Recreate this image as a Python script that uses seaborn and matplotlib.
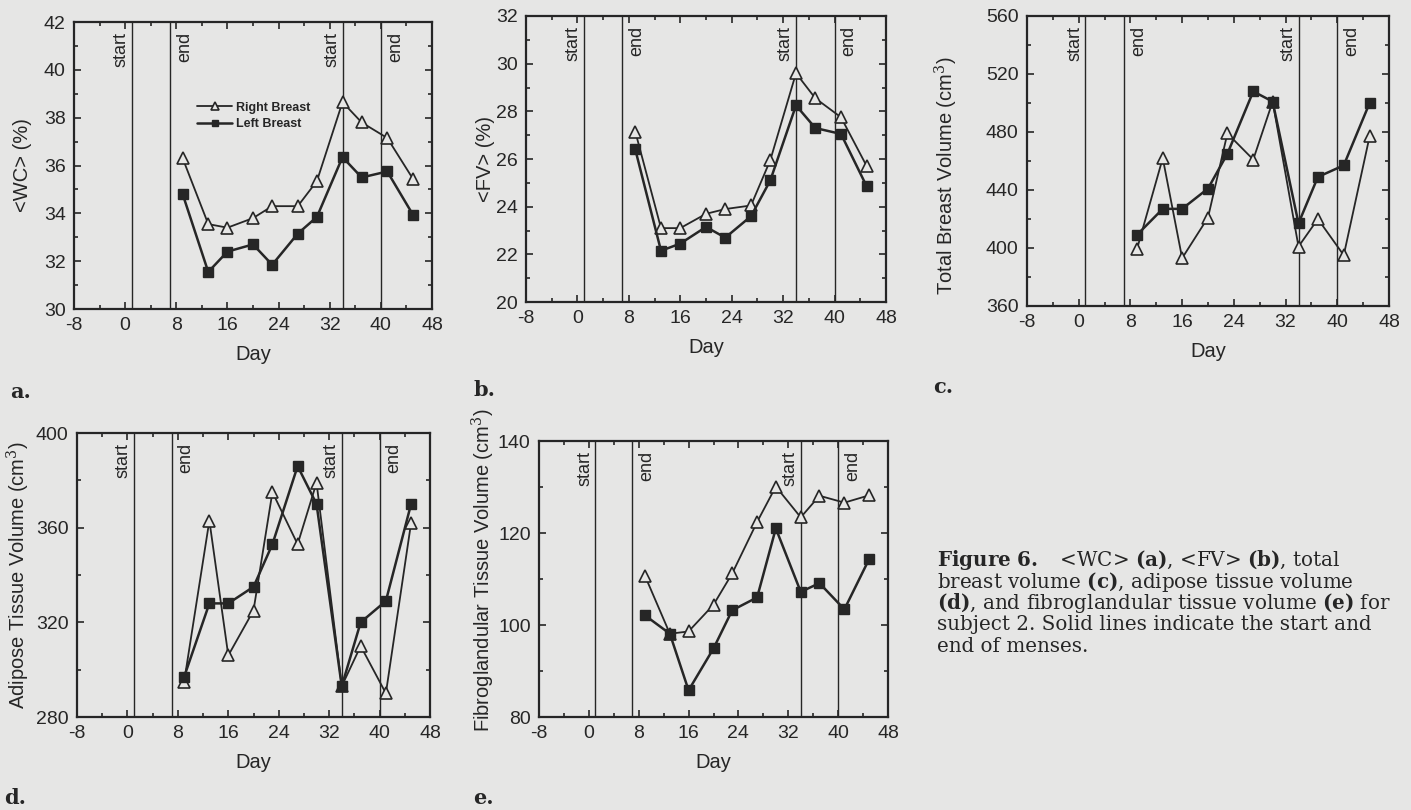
import matplotlib
matplotlib.use("Agg")
import matplotlib.pyplot as plt
import matplotlib.transforms as mtransforms
from matplotlib.ticker import MultipleLocator
import seaborn as sns
import pandas as pd

# ---------------- data ----------------
days = [9, 13, 16, 20, 23, 27, 30, 34, 37, 41, 45]
event_days = [1, 7, 34, 40]
event_names = ["start", "end", "start", "end"]
series_names = ["Right Breast", "Left Breast"]

wc_right = [36.3, 33.55, 33.4, 33.8, 34.3, 34.3, 35.35, 38.65, 37.8, 37.15, 35.45]
wc_left = [34.8, 31.55, 32.4, 32.7, 31.85, 33.15, 33.85, 36.35, 35.5, 35.75, 33.95]
fv_right = [27.15, 23.1, 23.1, 23.7, 23.9, 24.05, 25.95, 29.6, 28.55, 27.75, 25.7]
fv_left = [26.4, 22.15, 22.45, 23.15, 22.7, 23.6, 25.1, 28.25, 27.3, 27.05, 24.85]
tbv_right = [399, 462, 393, 421, 479, 461, 501, 401, 420, 395, 477]
tbv_left = [409, 427, 427, 441, 465, 508, 501, 417, 449, 457, 500]
adi_right = [295, 363, 306, 325, 375, 353, 379, 293, 310, 290, 362]
adi_left = [297, 328, 328, 335, 353, 386, 370, 293, 320, 329, 370]
fib_right = [110.7, 98.1, 98.6, 104.4, 111.2, 122.4, 130.1, 123.4, 128.1, 126.6, 128.2]
fib_left = [102.1, 98.1, 85.8, 94.9, 103.2, 106.0, 121.0, 107.2, 109.1, 103.4, 114.4]

ylabels = ["<WC> (%)", "<FV> (%)", "Total Breast Volume (cm$^3$)",
           "Adipose Tissue Volume (cm$^3$)", "Fibroglandular Tissue Volume (cm$^3$)"]
panel_letters = ["a.", "b.", "c.", "d.", "e."]
caption_lines = [
    r"$\mathbf{Figure\ 6.}$   <WC> $\mathbf{(a)}$, <FV> $\mathbf{(b)}$, total",
    r"breast volume $\mathbf{(c)}$, adipose tissue volume",
    r"$\mathbf{(d)}$, and fibroglandular tissue volume $\mathbf{(e)}$ for",
    r"subject 2. Solid lines indicate the start and",
    r"end of menses.",
]

# ---------------- style ----------------
BG = "#e6e6e5"
DARK = "#262626"
W, H = 1411, 810

sns.set_style("ticks")
plt.rcParams["font.family"] = ["Liberation Sans", "DejaVu Sans"]
plt.rcParams["axes.unicode_minus"] = False
plt.rcParams["mathtext.fontset"] = "custom"
plt.rcParams["mathtext.rm"] = "DejaVu Serif"
plt.rcParams["mathtext.bf"] = "DejaVu Serif:bold"
plt.rcParams["mathtext.it"] = "DejaVu Serif:italic"
plt.rcParams["text.color"] = DARK
plt.rcParams["axes.labelcolor"] = DARK

fig = plt.figure(figsize=(W / 100, H / 100), dpi=100, facecolor=BG)

# panel geometry in pixels: (left, top, right, bottom)
panels = [
    dict(rect=(74, 22, 432, 309), ylim=(30, 42), major=2, minor=1,
         right=wc_right, left=wc_left, labx=-0.117, laby=0.5,
         letter_xy=(10, 398)),
    dict(rect=(526, 16, 886, 302), ylim=(20, 32), major=2, minor=1,
         right=fv_right, left=fv_left, labx=-0.086, laby=0.5,
         letter_xy=(473, 396)),
    dict(rect=(1027, 16, 1389, 306), ylim=(360, 560), major=40, minor=20,
         right=tbv_right, left=tbv_left, labx=-0.185, laby=0.45,
         letter_xy=(933, 393)),
    dict(rect=(77, 433, 430, 717), ylim=(280, 400), major=40, minor=20,
         right=adi_right, left=adi_left, labx=-0.127, laby=0.5,
         letter_xy=(4, 804)),
    dict(rect=(539, 441, 888, 717), ylim=(80, 140), major=20, minor=10,
         right=fib_right, left=fib_left, labx=-0.12, laby=0.53,
         letter_xy=(473, 804)),
]

for i, p in enumerate(panels):
    l, t, r, b = p["rect"]
    ax = fig.add_axes([l / W, 1 - b / H, (r - l) / W, (b - t) / H])
    ax.set_facecolor("none")

    # menses lines + labels
    trans = mtransforms.blended_transform_factory(ax.transData, ax.transAxes)
    for xd, name in zip(event_days, event_names):
        ax.axvline(xd, color=DARK, lw=1.0, zorder=1)
        if name == "start":
            tr = mtransforms.offset_copy(trans, fig=fig, x=-2, y=-10, units="dots")
            ax.text(xd, 1, name, rotation=90, ha="right", va="top",
                    transform=tr, fontsize=13, color=DARK)
        else:
            tr = mtransforms.offset_copy(trans, fig=fig, x=6, y=-10, units="dots")
            ax.text(xd, 1, name, rotation=90, ha="left", va="top",
                    transform=tr, fontsize=13, color=DARK)

    sns.lineplot(x=days, y=p["right"], ax=ax, color=DARK, lw=1.3,
                 marker="^", markersize=9, markerfacecolor=BG,
                 markeredgecolor=DARK, markeredgewidth=1.2,
                 label=series_names[0], legend=False, zorder=3)
    sns.lineplot(x=days, y=p["left"], ax=ax, color=DARK, lw=1.8,
                 marker="s", markersize=7, markerfacecolor=DARK,
                 markeredgecolor=DARK, markeredgewidth=1.0,
                 label=series_names[1], legend=False, zorder=4)

    ax.set_xlim(-8, 48)
    ax.set_ylim(*p["ylim"])
    ax.xaxis.set_major_locator(MultipleLocator(8))
    ax.xaxis.set_minor_locator(MultipleLocator(4))
    ax.yaxis.set_major_locator(MultipleLocator(p["major"]))
    ax.yaxis.set_minor_locator(MultipleLocator(p["minor"]))
    ax.tick_params(which="both", direction="in", top=True, right=True,
                   color=DARK, labelcolor=DARK, width=1.2)
    ax.tick_params(which="major", length=5, labelsize=14, pad=6)
    ax.tick_params(which="minor", length=3)
    for s in ax.spines.values():
        s.set_visible(True)
        s.set_color(DARK)
        s.set_linewidth(1.6)

    ax.set_xlabel("Day", fontsize=14.5, labelpad=8)
    ax.set_ylabel(ylabels[i], fontsize=14.5)
    ax.yaxis.set_label_coords(p["labx"], p["laby"])

    if i == 0:
        ax.legend(loc="upper left", bbox_to_anchor=(0.33, 0.74), frameon=False,
                  prop={"size": 9, "weight": "bold"}, handlelength=2.8,
                  handletextpad=0.3, labelspacing=0.35, borderaxespad=0,
                  markerscale=0.7)

    lx, ly = p["letter_xy"]
    fig.text(lx / W, 1 - ly / H, panel_letters[i], fontsize=15,
             fontweight="bold", family="DejaVu Serif", va="baseline",
             ha="left", color=DARK)

# caption
cap_x = 937
cap_y0 = 566
cap_dy = 21.5
for k, line in enumerate(caption_lines):
    fig.text(cap_x / W, 1 - (cap_y0 + k * cap_dy) / H, line, fontsize=14.3,
             family="DejaVu Serif", va="baseline", ha="left", color=DARK)

fig.savefig("out.png", dpi=100, facecolor=BG)
